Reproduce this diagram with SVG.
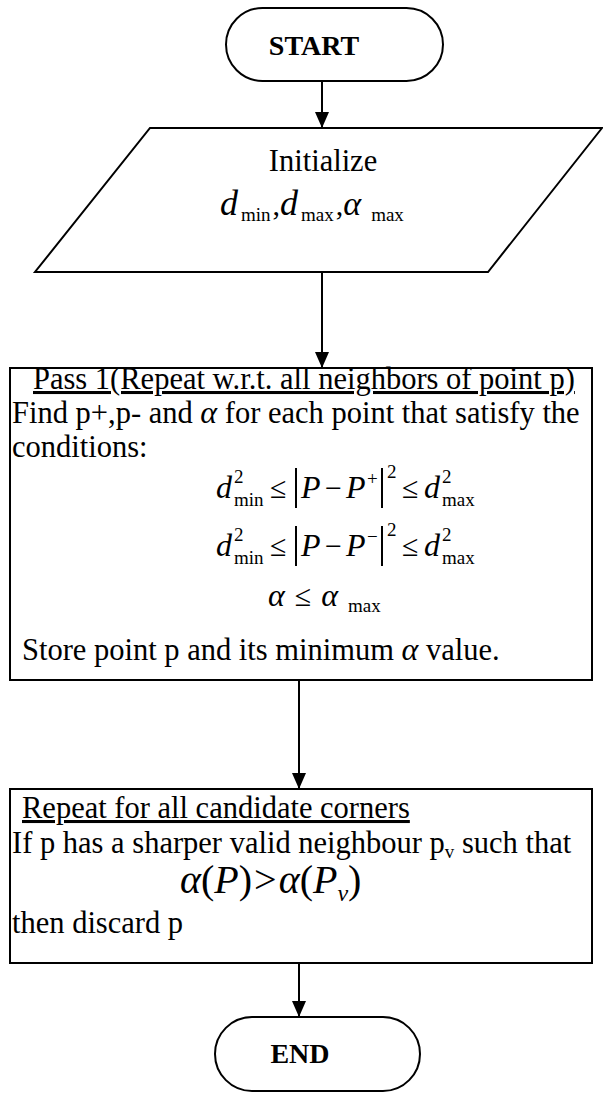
<svg xmlns="http://www.w3.org/2000/svg" width="603" height="1110" viewBox="0 0 603 1110">
<style>
.s{fill:#fff;stroke:#000;stroke-width:2}
.c{stroke:#000;stroke-width:2;fill:none}
text{font-family:"Liberation Serif","Times New Roman",serif;fill:#000}
.b{font-size:30.5px}
.h{font-size:28px;font-weight:bold}
.m{font-size:32px;font-style:italic}
.sm{font-size:19px}
.op{font-size:30px}
.up{font-style:normal}
</style>
<defs>
<marker id="ah" viewBox="0 0 16 14" refX="16" refY="7" markerWidth="16" markerHeight="14" markerUnits="userSpaceOnUse" orient="auto">
<path d="M0,0 L16,7 L0,14 z" fill="#000"/>
</marker>
</defs>
<g id="connectors">
<line class="c" x1="322" y1="81" x2="322" y2="128" marker-end="url(#ah)"/>
<line class="c" x1="322" y1="272" x2="322" y2="368" marker-end="url(#ah)"/>
<line class="c" x1="299" y1="680" x2="299" y2="789" marker-end="url(#ah)"/>
<line class="c" x1="299" y1="963" x2="299" y2="1017" marker-end="url(#ah)"/>
</g>
<g id="start">
<rect class="s" x="226" y="8" width="217" height="73" rx="36.5"/>
<text class="h" x="314" y="55" text-anchor="middle">START</text>
</g>
<g id="init">
<polygon class="s" points="150,128 602,128 488,272 35,272"/>
<text class="b" x="323" y="171" text-anchor="middle">Initialize</text>
<text x="220" y="215"><tspan font-size="36" font-style="italic">d</tspan><tspan class="sm" dx="3" dy="6">min</tspan><tspan class="op" dx="2" dy="-6">,</tspan><tspan font-size="36" font-style="italic">d</tspan><tspan class="sm" dx="3" dy="6">max</tspan><tspan class="op" dx="2" dy="-6">,</tspan><tspan font-size="34" font-style="italic">α</tspan><tspan class="sm" dx="10" dy="6">max</tspan></text>
</g>
<g id="pass1">
<rect class="s" x="10" y="368" width="582" height="312"/>
<text class="b" x="33" y="389" text-decoration="underline">Pass 1(Repeat w.r.t. all neighbors of point p)</text>
<text class="b" x="12" y="423">Find p+,p- and <tspan class="m">α</tspan> for each point that satisfy the</text>
<text class="b" x="12" y="457">conditions:</text>
<g id="eq1">
<text class="m" x="216" y="498">d</text>
<text class="sm" x="234" y="483">2</text>
<text class="sm" x="234" y="506">min</text>
<text class="op" x="270" y="498">≤</text>
<line class="c" x1="296" y1="468" x2="296" y2="508" stroke-width="1.5"/>
<text class="m" x="301" y="498">P</text>
<text class="op" x="325" y="498">−</text>
<text class="m" x="346" y="498">P</text>
<text class="sm" x="367" y="485">+</text>
<line class="c" x1="382" y1="468" x2="382" y2="508" stroke-width="1.5"/>
<text class="sm" x="387" y="478">2</text>
<text class="op" x="402" y="498">≤</text>
<text class="m" x="424" y="498">d</text>
<text class="sm" x="442" y="483">2</text>
<text class="sm" x="442" y="506">max</text>
</g>
<g id="eq2">
<text class="m" x="216" y="556">d</text>
<text class="sm" x="234" y="541">2</text>
<text class="sm" x="234" y="564">min</text>
<text class="op" x="270" y="556">≤</text>
<line class="c" x1="296" y1="526" x2="296" y2="566" stroke-width="1.5"/>
<text class="m" x="301" y="556">P</text>
<text class="op" x="325" y="556">−</text>
<text class="m" x="346" y="556">P</text>
<text class="sm" x="367" y="543">−</text>
<line class="c" x1="382" y1="526" x2="382" y2="566" stroke-width="1.5"/>
<text class="sm" x="387" y="536">2</text>
<text class="op" x="402" y="556">≤</text>
<text class="m" x="424" y="556">d</text>
<text class="sm" x="442" y="541">2</text>
<text class="sm" x="442" y="564">max</text>
</g>
<g id="eq3">
<text x="268" y="606"><tspan class="m">α</tspan><tspan class="op" dx="10">≤</tspan><tspan class="m" dx="10">α</tspan><tspan class="sm" dx="10" dy="6">max</tspan></text>
</g>
<text class="b" x="22" y="660">Store point p and its minimum <tspan class="m">α</tspan> value.</text>
</g>
<g id="repeat">
<rect class="s" x="10" y="789" width="582" height="174"/>
<text class="b" x="22" y="818" text-decoration="underline">Repeat for all candidate corners</text>
<text class="b" x="12" y="853">If p has a sharper valid neighbour p<tspan font-size="19" dy="5">v</tspan><tspan dy="-5"> such that</tspan></text>
<text x="180" y="893" font-size="40" font-style="italic">α<tspan class="up">(</tspan>P<tspan class="up">)</tspan><tspan class="up" dx="2">&gt;</tspan><tspan dx="2">α</tspan><tspan class="up">(</tspan>P<tspan font-size="24" dy="8">v</tspan><tspan class="up" dy="-8">)</tspan></text>
<text class="b" x="12" y="933">then discard p</text>
</g>
<g id="end">
<rect class="s" x="215" y="1017" width="205" height="74" rx="37"/>
<text class="h" x="300" y="1063" text-anchor="middle">END</text>
</g>
</svg>
